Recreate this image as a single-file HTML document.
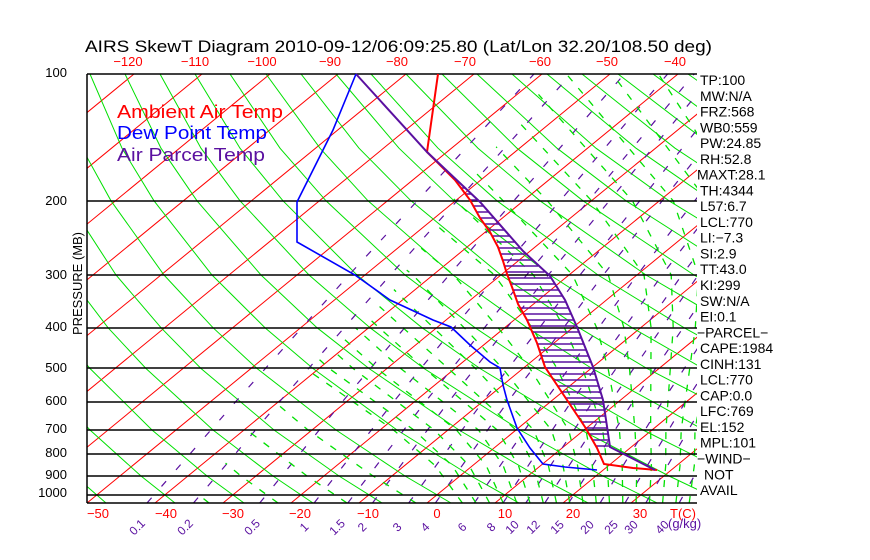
<!DOCTYPE html>
<html><head><meta charset="utf-8"><style>
html,body{margin:0;padding:0;background:#fff;width:870px;height:560px;overflow:hidden}
svg{display:block}
text{font-family:"Liberation Sans",sans-serif}
</style></head><body>
<svg width="870" height="560" viewBox="0 0 870 560" xmlns="http://www.w3.org/2000/svg">
<defs>
<clipPath id="c"><rect x="87" y="74" width="610" height="429"/></clipPath>
<clipPath id="cm"><polygon points="195,503 274,400 387,300 453,200 555,74 697,74 697,503"/></clipPath>
<line id="iso" x1="87" y1="503" x2="610" y2="74" stroke="#f00" stroke-width="1"/>
</defs>
<g clip-path="url(#c)">
<use href="#iso" transform="translate(-952,0)"/><use href="#iso" transform="translate(-884,0)"/><use href="#iso" transform="translate(-816,0)"/><use href="#iso" transform="translate(-748,0)"/><use href="#iso" transform="translate(-680,0)"/><use href="#iso" transform="translate(-612,0)"/><use href="#iso" transform="translate(-544,0)"/><use href="#iso" transform="translate(-476,0)"/><use href="#iso" transform="translate(-408,0)"/><use href="#iso" transform="translate(-340,0)"/><use href="#iso" transform="translate(-272,0)"/><use href="#iso" transform="translate(-204,0)"/><use href="#iso" transform="translate(-136,0)"/><use href="#iso" transform="translate(-68,0)"/><use href="#iso"/><use href="#iso" transform="translate(68,0)"/><use href="#iso" transform="translate(136,0)"/><use href="#iso" transform="translate(204,0)"/><use href="#iso" transform="translate(272,0)"/><use href="#iso" transform="translate(340,0)"/><use href="#iso" transform="translate(408,0)"/><use href="#iso" transform="translate(476,0)"/><use href="#iso" transform="translate(544,0)"/><use href="#iso" transform="translate(612,0)"/>
<g id="dry" fill="none" stroke="#00e000" stroke-width="1">
<polyline points="106,503 75,476 29,430 -22,368.5 -49,327.7 -77,275 -104,200.8 -115,148.2 -122,74"/>
<polyline points="175,503 141,476 90,430 34,368.5 4,327.7 -29,275 -61,200.8 -76,148.2 -86,74"/>
<polyline points="244,503 207,476 152,430 90,368.5 56,327.7 20,275 -18,200.8 -36,148.2 -51,74"/>
<polyline points="313,503 273,476 213,430 146,368.5 108,327.7 68,275 25,200.8 3,148.2 -16,74"/>
<polyline points="382,503 339,476 274,430 201,368.5 161,327.7 116,275 68,200.8 43,148.2 19,74"/>
<polyline points="451,503 405,476 336,430 257,368.5 213,327.7 164,275 111,200.8 82,148.2 55,74"/>
<polyline points="519,503 471,476 397,430 313,368.5 265,327.7 212,275 154,200.8 122,148.2 90,74"/>
<polyline points="588,503 537,476 459,430 369,368.5 317,327.7 261,275 197,200.8 161,148.2 125,74"/>
<polyline points="657,503 603,476 520,430 424,368.5 370,327.7 309,275 240,200.8 201,148.2 160,74"/>
<polyline points="726,503 669,476 581,430 480,368.5 422,327.7 357,275 283,200.8 240,148.2 195,74"/>
<polyline points="795,503 735,476 643,430 536,368.5 475,327.7 405,275 326,200.8 280,148.2 230,74"/>
<polyline points="864,503 800,476 704,430 592,368.5 527,327.7 453,275 368,200.8 320,148.2 266,74"/>
<polyline points="933,503 866,476 766,430 647,368.5 579,327.7 501,275 411,200.8 359,148.2 301,74"/>
<polyline points="1001,503 932,476 827,430 703,368.5 632,327.7 550,275 454,200.8 399,148.2 336,74"/>
<polyline points="1070,503 998,476 888,430 759,368.5 684,327.7 598,275 497,200.8 438,148.2 371,74"/>
<polyline points="1064,476 950,430 815,368.5 736,327.7 646,275 540,200.8 478,148.2 406,74"/>
<polyline points="1011,430 871,368.5 788,327.7 694,275 583,200.8 517,148.2 442,74"/>
<polyline points="926,368.5 841,327.7 742,275 626,200.8 557,148.2 477,74"/>
<polyline points="982,368.5 893,327.7 790,275 669,200.8 596,148.2 512,74"/>
<polyline points="945,327.7 839,275 712,200.8 636,148.2 547,74"/>
<polyline points="998,327.7 887,275 755,200.8 675,148.2 582,74"/>
<polyline points="935,275 798,200.8 715,148.2 618,74"/>
<polyline points="983,275 841,200.8 754,148.2 653,74"/>
<polyline points="884,200.8 794,148.2 688,74"/>
<polyline points="927,200.8 833,148.2 723,74"/>
<polyline points="970,200.8 873,148.2 758,74"/>
</g>
<g fill="none" stroke="#5a10a0" stroke-width="1.2" stroke-dasharray="7 15">
<polyline points="147,503 235.5,401.9 349,275 534,74"/>
<polyline points="193.5,503 279.4,401.9 390.3,275 571.2,74"/>
<polyline points="259.7,503 342.2,401.9 449.1,275 624.4,74"/>
<polyline points="314.1,503 393.5,401.9 497.1,275 667.6,74"/>
<polyline points="347.8,503 425.3,401.9 526.6,275 694.2,74"/>
<polyline points="372.5,503 448.6,401.9 548.3,275 713.6,74"/>
<polyline points="408.7,503 482.6,401.9 580,275 742,74"/>
<polyline points="435.4,503 507.7,401.9 603.3,275 762.8,74"/>
<polyline points="474.3,503 544.3,401.9 637.2,275 793,74"/>
<polyline points="503,503 571.2,401.9 662.1,275 815,74"/>
<polyline points="525.8,503 592.6,401.9 681.9,275 832.8,74"/>
<polyline points="544.8,503 610.5,401.9 698.3,275 847,74"/>
<polyline points="568.7,503 632.8,401.9 719,275 870,74"/>
<polyline points="600.1,503 662.2,401.9 746,275"/>
<polyline points="625,503 685.4,401.9 767,275"/>
<polyline points="645.8,503 704.8,401.9"/>
<polyline points="679.1,503 735.8,401.9"/>
</g>
</g>
<g clip-path="url(#c)"><g clip-path="url(#cm)">
<g fill="none" stroke="#00e000" stroke-width="1.3" stroke-dasharray="7 9">
<polyline transform="translate(34,0)" points="175,503 141,476 90,430 34,368.5 4,327.7 -29,275 -61,200.8 -76,148.2 -86,74"/>
<polyline transform="translate(34,0)" points="244,503 207,476 152,430 90,368.5 56,327.7 20,275 -18,200.8 -36,148.2 -51,74"/>
<polyline transform="translate(34,0)" points="313,503 273,476 213,430 146,368.5 108,327.7 68,275 25,200.8 3,148.2 -16,74"/>
<polyline transform="translate(34,0)" points="382,503 339,476 274,430 201,368.5 161,327.7 116,275 68,200.8 43,148.2 19,74"/>
<polyline points="462.4,503 435.2,465.6 393.6,430.1 305.5,368.5 260,327.7 209,275 142.8,200.8 32,74"/>
<polyline points="476,503 452.2,465.6 414,430.1 329.3,368.5 283.9,327.7 232.7,275 163.2,200.8 49,74"/>
<polyline points="489.6,503 469.2,465.6 434.4,430.1 353.1,368.5 307.7,327.7 256.4,275 183.6,200.8 66,74"/>
<polyline points="503.2,503 486.2,465.6 456.5,430.1 376.9,368.5 331.5,327.7 276.8,275 197.2,200.8 83.2,74"/>
<polyline points="516.8,503 503.2,465.6 478.6,430.1 400.7,368.5 355.3,327.7 297.2,275 210.8,200.8 100.4,74"/>
<polyline points="530,503 518.5,465.6 497.3,430.1 424.5,368.5 379.1,327.7 321,275 231.2,200.8 124.2,74"/>
<polyline points="543.3,503 533.8,465.6 516,430.1 448.3,368.5 402.9,327.7 344.8,275 251.6,200.8 148,74"/>
<polyline points="556.5,503 548.4,465.6 533.7,430.1 475.5,368.5 433.5,327.7 378.8,275 285.6,200.8 175.2,74"/>
<polyline points="569.8,503 563,465.6 551.4,430.1 502.7,368.5 464.1,327.7 412.8,275 319.6,200.8 202.4,74"/>
<polyline points="583,503 577.6,465.6 568.7,430.1 529.9,368.5 498.1,327.7 453.6,275 363.8,200.8 243.2,74"/>
<polyline points="596.3,503 592.3,465.6 586,430.1 557.1,368.5 532.1,327.7 494.4,275 408,200.8 284,74"/>
<polyline points="609.5,503 607.2,465.6 602.7,430.1 582.6,368.5 564.4,327.7 533.5,275 455.6,200.8 331.6,74"/>
<polyline points="622.8,503 622.2,465.6 619.4,430.1 608.1,368.5 596.7,327.7 572.6,275 503.2,200.8 379.2,74"/>
<polyline points="636.1,503 636.8,465.6 635,430.1 629.5,368.5 623.9,327.7 608.3,275 547.4,200.8 426.8,74"/>
<polyline points="649.4,503 651.4,465.6 650.6,430.1 650.9,368.5 651.1,327.7 644,275 591.6,200.8 474.4,74"/>
<polyline points="662.6,503 665.7,465.6 665.9,430.1 670.3,368.5 673.2,327.7 671.2,275 632.4,200.8 520.4,74"/>
<polyline points="675.9,503 680,465.6 681.2,430.1 689.7,368.5 695.3,327.7 698.4,275 673.2,200.8 566.4,74"/>
<polyline points="689.2,503 694.3,465.6 695,430.1 706,368.5 713,327.7 720,275 707,200.8 612.4,74"/>
<polyline points="702.4,503 708.6,465.6 710,430.1 722,368.5 730,327.7 742,275 741,200.8 658.4,74"/>
<polyline points="716,503 722,465.6 725,430.1 740,368.5 750,327.7 765,275 775,200.8 704,74"/>
</g></g></g>
<g stroke="#000" stroke-width="1.5">
<line x1="87" x2="697" y1="74" y2="74"/><line x1="87" x2="697" y1="201" y2="201"/><line x1="87" x2="697" y1="275" y2="275"/><line x1="87" x2="697" y1="328" y2="328"/><line x1="87" x2="697" y1="368" y2="368"/><line x1="87" x2="697" y1="402" y2="402"/><line x1="87" x2="697" y1="430" y2="430"/><line x1="87" x2="697" y1="454" y2="454"/><line x1="87" x2="697" y1="476" y2="476"/><line x1="87" x2="697" y1="495" y2="495"/><line x1="87" x2="697" y1="503" y2="503"/><line x1="87" x2="87" y1="74" y2="503"/>
</g>
<g stroke="#5a10a0" stroke-width="1.5">
<line x1="445" x2="446.1" y1="170" y2="170"/><line x1="451" x2="452.4" y1="176" y2="176"/><line x1="456.5" x2="458.8" y1="182" y2="182"/><line x1="461" x2="465.2" y1="188" y2="188"/><line x1="465.5" x2="471.6" y1="194" y2="194"/><line x1="470" x2="477.9" y1="200" y2="200"/><line x1="473.3" x2="483.5" y1="206" y2="206"/><line x1="476.7" x2="488.8" y1="212" y2="212"/><line x1="480" x2="494" y1="218" y2="218"/><line x1="484.3" x2="499.3" y1="224" y2="224"/><line x1="488.6" x2="504.6" y1="230" y2="230"/><line x1="492.7" x2="509.8" y1="236" y2="236"/><line x1="496.9" x2="515.1" y1="242" y2="242"/><line x1="498.4" x2="520.4" y1="248" y2="248"/><line x1="500.5" x2="524.8" y1="254" y2="254"/><line x1="502.6" x2="531.6" y1="260" y2="260"/><line x1="504.5" x2="538" y1="266" y2="266"/><line x1="506.4" x2="544.5" y1="272" y2="272"/><line x1="508.5" x2="551.1" y1="278" y2="278"/><line x1="510.8" x2="555" y1="284" y2="284"/><line x1="513.1" x2="558.8" y1="290" y2="290"/><line x1="515.6" x2="562.5" y1="296" y2="296"/><line x1="517.3" x2="565.9" y1="302" y2="302"/><line x1="520.3" x2="568.4" y1="308" y2="308"/><line x1="523.6" x2="571.1" y1="314" y2="314"/><line x1="527" x2="573.8" y1="320" y2="320"/><line x1="529.6" x2="576.6" y1="326" y2="326"/><line x1="532.2" x2="579" y1="332" y2="332"/><line x1="534.8" x2="581.4" y1="338" y2="338"/><line x1="537.3" x2="583.8" y1="344" y2="344"/><line x1="539.3" x2="586.2" y1="350" y2="350"/><line x1="541.3" x2="588.6" y1="356" y2="356"/><line x1="543.3" x2="591" y1="362" y2="362"/><line x1="545.7" x2="593.3" y1="368" y2="368"/><line x1="549.7" x2="595.1" y1="374" y2="374"/><line x1="553.7" x2="596.9" y1="380" y2="380"/><line x1="557.7" x2="598.8" y1="386" y2="386"/><line x1="561.7" x2="600.6" y1="392" y2="392"/><line x1="565.7" x2="602.4" y1="398" y2="398"/><line x1="569.7" x2="603.6" y1="404" y2="404"/><line x1="573.7" x2="604.5" y1="410" y2="410"/><line x1="577.7" x2="605.4" y1="416" y2="416"/><line x1="581.7" x2="606.3" y1="422" y2="422"/><line x1="585.6" x2="607.2" y1="428" y2="428"/><line x1="589" x2="608.1" y1="434" y2="434"/><line x1="592.4" x2="609" y1="440" y2="440"/><line x1="595.9" x2="609.9" y1="446" y2="446"/>
</g>
<polyline fill="none" stroke="#f00" stroke-width="2" points="438,74 427,152 455,180 470,200 480,218 490,232 498,247 503,261 507,274 512,287 518,304 527,320 537,343 545,367 557,385 567,400 585,427 597,448 604,464 633,468 657,470"/>
<polyline fill="none" stroke="#5a10a0" stroke-width="2" points="356,74 427,152 480,202 523,251 550,276 565,300 577,327 593,367 603,400 608,433 610,447 655,470"/>
<polyline fill="none" stroke="#00f" stroke-width="1.6" points="356,74 333,130 297,202 297,242 355,275 390,300 433,320 451,327 470,345 490,362 500,368 503,385 507,400 517,428 530,448 543,464 565,467 597,470"/>

<text x="85" y="52" font-size="17" textLength="627" lengthAdjust="spacingAndGlyphs">AIRS SkewT Diagram 2010-09-12/06:09:25.80 (Lat/Lon 32.20/108.50 deg)</text>
<g font-size="18">
<text x="117" y="118" fill="#f00" textLength="166" lengthAdjust="spacingAndGlyphs">Ambient Air Temp</text>
<text x="117" y="139" fill="#00f" textLength="150" lengthAdjust="spacingAndGlyphs">Dew Point Temp</text>
<text x="117" y="161" fill="#5a10a0" textLength="148" lengthAdjust="spacingAndGlyphs">Air Parcel Temp</text>
</g>
<g font-size="13" fill="#f00" text-anchor="middle">
<text x="128" y="66">−120</text><text x="195" y="66">−110</text><text x="262" y="66">−100</text><text x="330" y="66">−90</text><text x="397" y="66">−80</text><text x="465" y="66">−70</text><text x="540" y="66">−60</text><text x="607" y="66">−50</text><text x="675" y="66">−40</text>
<text x="98" y="518">−50</text><text x="166" y="518">−40</text><text x="233" y="518">−30</text><text x="300" y="518">−20</text><text x="368" y="518">−10</text><text x="437" y="518">0</text><text x="505" y="518">10</text><text x="573" y="518">20</text><text x="640" y="518">30</text><text x="683" y="518">T(C)</text>
</g>
<g font-size="13" fill="#000" text-anchor="end">
<text x="67" y="77">100</text><text x="67" y="205">200</text><text x="67" y="279">300</text><text x="67" y="331">400</text><text x="67" y="372">500</text><text x="67" y="405">600</text><text x="67" y="433">700</text><text x="67" y="457">800</text><text x="67" y="479">900</text><text x="67" y="497">1000</text>
</g>
<text transform="translate(82,335) rotate(-90)" font-size="13" textLength="103" lengthAdjust="spacingAndGlyphs">PRESSURE (MB)</text>
<g font-size="12" fill="#5a10a0" text-anchor="middle">
<text transform="translate(140,530) rotate(-45)">0.1</text><text transform="translate(188,530) rotate(-45)">0.2</text><text transform="translate(255,530) rotate(-45)">0.5</text><text transform="translate(307,530) rotate(-45)">1</text><text transform="translate(340,530) rotate(-45)">1.5</text><text transform="translate(365,530) rotate(-45)">2</text><text transform="translate(400,530) rotate(-45)">3</text><text transform="translate(428,530) rotate(-45)">4</text><text transform="translate(465,530) rotate(-45)">6</text><text transform="translate(494,530) rotate(-45)">8</text><text transform="translate(515,530) rotate(-45)">10</text><text transform="translate(536,530) rotate(-45)">12</text><text transform="translate(560,530) rotate(-45)">15</text><text transform="translate(590,530) rotate(-45)">20</text><text transform="translate(614,530) rotate(-45)">25</text><text transform="translate(634,530) rotate(-45)">30</text><text transform="translate(665,530) rotate(-45)">40</text>
</g>
<text x="668" y="528" font-size="13" fill="#5a10a0">(g/kg)</text>
<g font-size="14" fill="#000">
<text x="700" y="85">TP:100</text><text x="700" y="100.8">MW:N/A</text><text x="700" y="116.5">FRZ:568</text><text x="700" y="132.3">WB0:559</text><text x="700" y="148.1">PW:24.85</text><text x="700" y="163.9">RH:52.8</text><text x="697" y="179.6">MAXT:28.1</text><text x="700" y="195.4">TH:4344</text><text x="700" y="211.2">L57:6.7</text><text x="700" y="226.9">LCL:770</text><text x="700" y="242.7">LI:−7.3</text><text x="700" y="258.5">SI:2.9</text><text x="700" y="274.2">TT:43.0</text><text x="700" y="290">KI:299</text><text x="700" y="305.8">SW:N/A</text><text x="700" y="321.6">EI:0.1</text><text x="697" y="337.3">−PARCEL−</text><text x="700" y="353.1">CAPE:1984</text><text x="700" y="368.9">CINH:131</text><text x="700" y="384.6">LCL:770</text><text x="700" y="400.4">CAP:0.0</text><text x="700" y="416.2">LFC:769</text><text x="700" y="431.9">EL:152</text><text x="700" y="447.7">MPL:101</text><text x="697" y="463.5">−WIND−</text><text x="704" y="479.3">NOT</text><text x="700" y="495">AVAIL</text>
</g>
</svg>
</body></html>
